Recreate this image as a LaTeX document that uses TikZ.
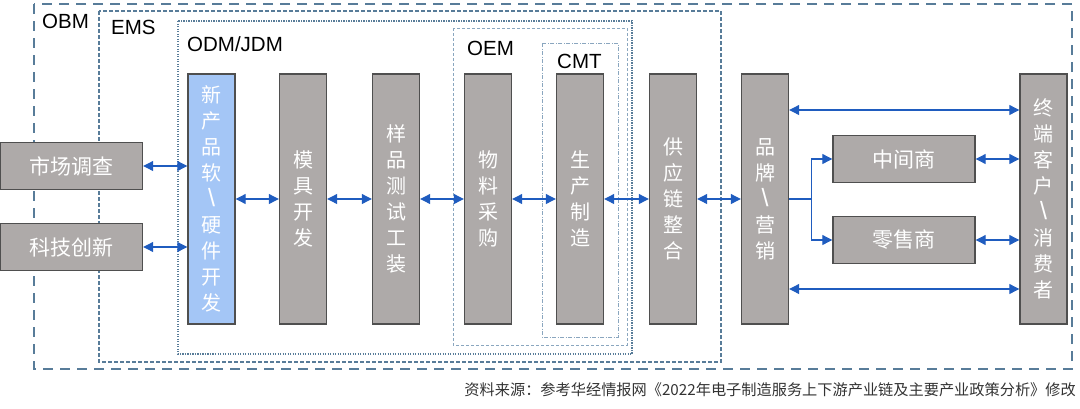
\documentclass[tikz,border=0pt]{standalone}
\usepackage{fontspec}
\setmainfont{Liberation Sans}
\newfontfamily\cjk{Noto Sans CJK SC}
\usetikzlibrary{arrows.meta}
\definecolor{bargray}{HTML}{AEAAA9}
\definecolor{barline}{HTML}{4F4F4F}
\definecolor{barblue}{HTML}{A4C6F6}
\definecolor{arrowblue}{HTML}{1F5CBF}
\definecolor{frameblue}{HTML}{587C99}
\definecolor{framelight}{HTML}{8AA6BF}
\definecolor{foottext}{HTML}{333333}
\newcommand{\vbs}{{\rmfamily\fontsize{25}{26}\selectfont\textbackslash}}
\tikzset{
  bar/.style={draw=barline, line width=1.4pt, fill=bargray, minimum width=47pt, minimum height=250pt,
    inner sep=0pt, text=white, align=center, font=\cjk\fontsize{20}{26}\selectfont},
  bluebar/.style={bar, fill=barblue},
  hbox/.style={draw=barline, line width=1.4pt, fill=bargray, minimum width=142pt, minimum height=47pt,
    inner sep=0pt, text=white, font=\cjk\fontsize{21}{24}\selectfont},
  link/.style={draw=arrowblue, line width=1.1pt, {Triangle[length=10pt,width=10pt]}-{Triangle[length=10pt,width=10pt]}},
  onelink/.style={draw=arrowblue, line width=1.1pt, -{Triangle[length=10pt,width=10pt]}},
  plainlink/.style={draw=arrowblue, line width=1.1pt},
  obmframe/.style={draw=frameblue, line width=2.8pt, dash pattern=on 10pt off 7pt},
  emsframe/.style={draw=frameblue, line width=1.1pt, dash pattern=on 4pt off 2pt},
  odmframe/.style={draw=frameblue, line width=1.2pt, dash pattern=on 1.2pt off 1.3pt},
  oemframe/.style={draw=framelight, line width=0.9pt, dash pattern=on 3pt off 2pt},
  cmtframe/.style={draw=framelight, line width=0.9pt, dash pattern=on 4pt off 1.5pt on 1pt off 1.5pt},
  framelabel/.style={anchor=base west, inner sep=0pt, font=\fontsize{20.5}{24}\selectfont, text=black},
}
\begin{document}
\begin{tikzpicture}[x=1pt,y=-1pt]
\useasboundingbox (0,0) rectangle (1080,408);

% frames
\draw[obmframe] (34,4) rectangle (1072,369);
\draw[emsframe] (99,11) rectangle (721,362);
\draw[odmframe] (178,21) rectangle (632,354);
\draw[oemframe] (453,28) rectangle (627,345);
\draw[cmtframe] (542,43) rectangle (618,337);

\node[framelabel] (lobm) at (42,28) {OBM};
\node[framelabel] (lems) at (111,34) {EMS};
\node[framelabel] (lodm) at (187,51) {ODM/JDM};
\node[framelabel] (loem) at (467,55) {OEM};
\node[framelabel] (lcmt) at (557,68) {CMT};

% vertical bars
\node[bluebar] (b1) at (211.5,199) {新\\产\\品\\软\\\vbs\\硬\\件\\开\\发};
\node[bar] (b2) at (303,199) {模\\具\\开\\发};
\node[bar] (b3) at (396,199) {样\\品\\测\\试\\工\\装};
\node[bar] (b4) at (488,199) {物\\料\\采\\购};
\node[bar] (b5) at (580,199) {生\\产\\制\\造};
\node[bar] (b6) at (673,199) {供\\应\\链\\整\\合};
\node[bar] (b7) at (765,199) {品\\牌\\\vbs\\营\\销};
\node[bar] (b8) at (1043.5,199) {终\\端\\客\\户\\\vbs\\消\\费\\者};

% horizontal boxes
\node[hbox] (sc) at (71.5,166) {市场调查};
\node[hbox] (kj) at (71.5,247) {科技创新};
\node[hbox] (zj) at (904,159) {中间商};
\node[hbox] (ls) at (904,240) {零售商};

% connectors
\draw[link] (sc.east) -- (b1.west |- sc.east);
\draw[link] (kj.east) -- (b1.west |- kj.east);
\draw[link] (b1) -- (b2);
\draw[link] (b2) -- (b3);
\draw[link] (b3) -- (b4);
\draw[link] (b4) -- (b5);
\draw[link] (b5) -- (b6);
\draw[link] (b6) -- (b7);

\path (b7.east) ++(0,-89) coordinate (t7);
\path (b7.east) ++(0,90) coordinate (u7);
\draw[link] (t7) -- (b8.west |- t7);
\draw[link] (u7) -- (b8.west |- u7);

\path (b7.east) ++(22,0) coordinate (br);
\draw[plainlink] (b7.east) -- (br);
\draw[onelink] (br) |- (zj.west);
\draw[onelink] (br) |- (ls.west);
\draw[link] (zj.east) -- (b8.west |- zj.east);
\draw[link] (ls.east) -- (b8.west |- ls.east);

% footer
\node[anchor=base east, inner sep=0pt, text=foottext, font=\cjk\fontsize{15.2}{17}\selectfont] (foot) at (1076,395)
  {资料来源：参考华经情报网《2022年电子制造服务上下游产业链及主要产业政策分析》修改};
\end{tikzpicture}
\end{document}
